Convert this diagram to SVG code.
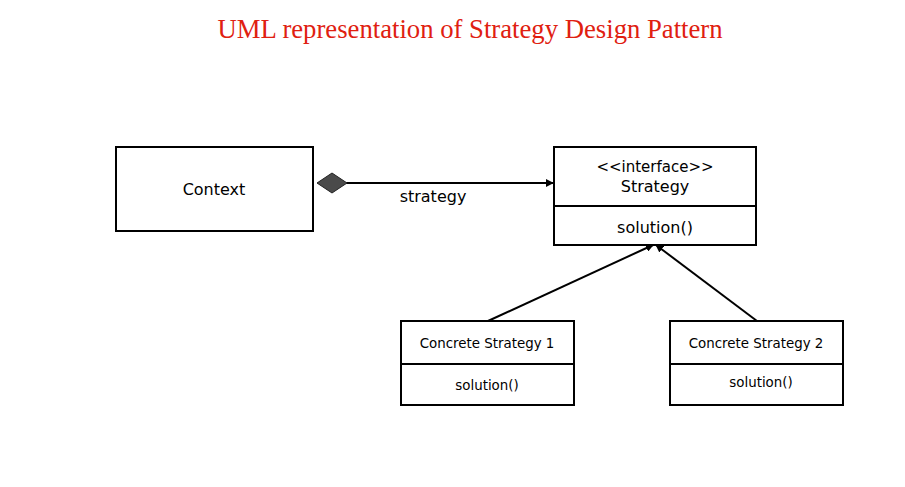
<svg xmlns="http://www.w3.org/2000/svg" width="905" height="487" viewBox="0 0 905 487">
<style>
.box{fill:#fff;stroke:#000;stroke-width:2}
.t{font-family:"DejaVu Sans","Liberation Sans",sans-serif;fill:#000;text-anchor:middle}
.c{stroke:#000;stroke-width:2;fill:none}
</style>
<defs>
<marker id="ah" viewBox="0 0 10 10" refX="9" refY="5" markerWidth="4" markerHeight="4" orient="auto" markerUnits="strokeWidth">
<path d="M0,0 L10,5 L0,10 z" fill="#000"/>
</marker>
</defs>
<rect width="905" height="487" fill="#fff"/>
<text x="470" y="38" font-family="'Liberation Serif',serif" font-size="26.7" fill="#e02010" text-anchor="middle">UML representation of Strategy Design Pattern</text>
<g id="connectors">
<line class="c" x1="346" y1="183" x2="553" y2="183" marker-end="url(#ah)"/>
<polygon points="317,183 332,173 347,183 332,193" fill="#4a4a4a" stroke="#222" stroke-width="1"/>
<text class="t" x="433" y="202" font-size="16">strategy</text>
<line class="c" x1="488" y1="321" x2="653" y2="245" marker-end="url(#ah)"/>
<line class="c" x1="757" y1="321" x2="656" y2="245" marker-end="url(#ah)"/>
</g>
<g id="context">
<rect class="box" x="116" y="147" width="197" height="84"/>
<text class="t" x="214" y="195" font-size="16">Context</text>
</g>
<g id="strategy">
<rect class="box" x="554" y="147" width="202" height="98"/>
<line class="c" x1="554" y1="206" x2="756" y2="206"/>
<text class="t" x="655" y="172" font-size="15">&lt;&lt;interface&gt;&gt;</text>
<text class="t" x="655" y="192" font-size="16">Strategy</text>
<text class="t" x="655" y="233" font-size="16">solution()</text>
</g>
<g id="cs1">
<rect class="box" x="401" y="321" width="173" height="84"/>
<line class="c" x1="401" y1="364" x2="574" y2="364"/>
<text class="t" x="487" y="348" font-size="13.4">Concrete Strategy 1</text>
<text class="t" x="487" y="390" font-size="13.4">solution()</text>
</g>
<g id="cs2">
<rect class="box" x="670" y="321" width="173" height="84"/>
<line class="c" x1="670" y1="364" x2="843" y2="364"/>
<text class="t" x="756" y="348" font-size="13.4">Concrete Strategy 2</text>
<text class="t" x="761" y="387" font-size="13.4">solution()</text>
</g>
</svg>
